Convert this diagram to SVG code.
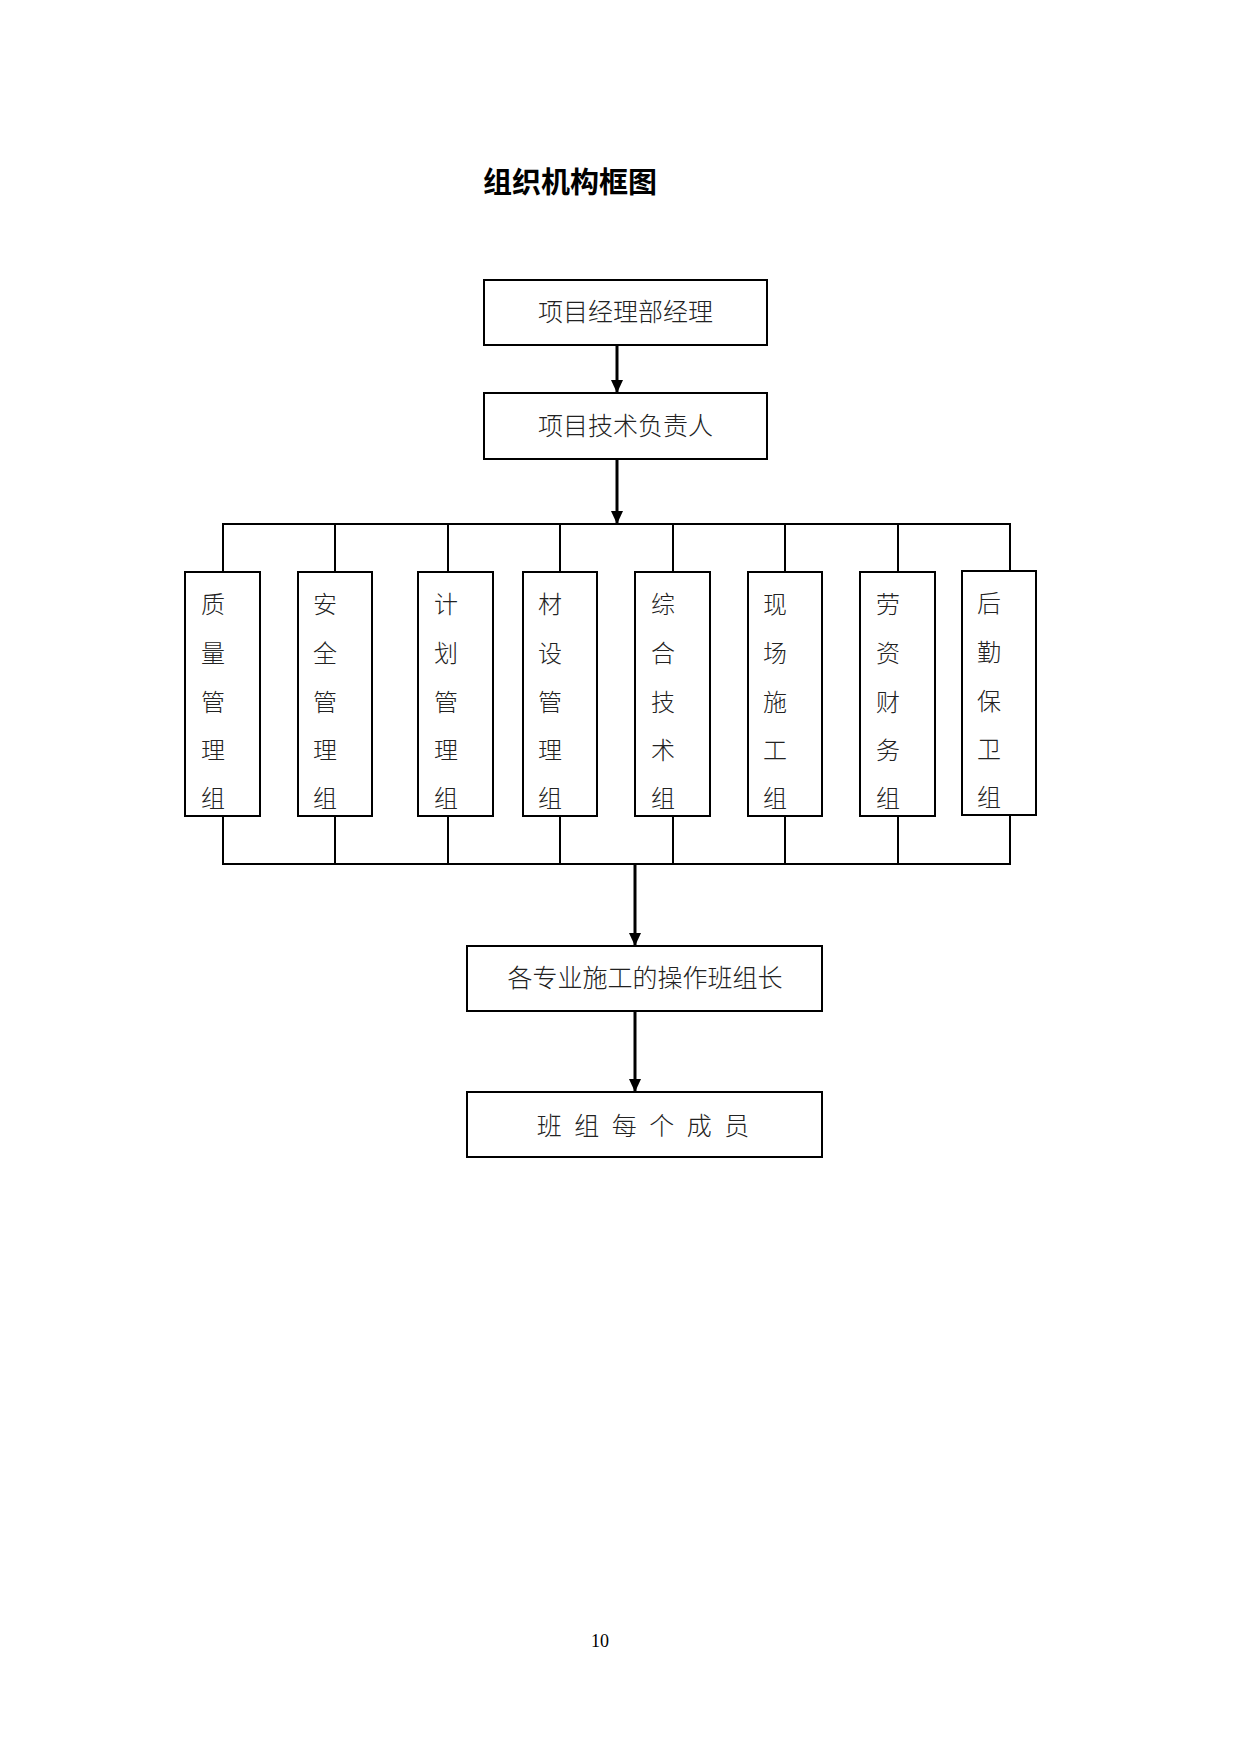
<svg xmlns="http://www.w3.org/2000/svg" width="1241" height="1754" viewBox="0 0 1241 1754">
<style>
.bg{fill:#fff}
.box{fill:#fff;stroke:#000;stroke-width:2}
.t{font-family:"Noto Sans CJK SC","Noto Sans CJK JP",sans-serif;font-size:25px;font-weight:300;fill:#222;dominant-baseline:central;text-anchor:middle}
.v{font-family:"Noto Sans CJK SC","Noto Sans CJK JP",sans-serif;font-size:24px;font-weight:300;fill:#222;dominant-baseline:central;text-anchor:middle}
.title{font-family:"Noto Sans CJK SC","Noto Sans CJK JP",sans-serif;font-size:29px;font-weight:bold;fill:#000;dominant-baseline:central}
.ln{stroke:#000;stroke-width:2;fill:none}
.ar{stroke:#000;stroke-width:3;fill:none;marker-end:url(#ah)}
.pg{font-family:"Liberation Serif",serif;font-size:18px;fill:#000;text-anchor:middle}
</style>
<defs>
<marker id="ah" markerUnits="userSpaceOnUse" viewBox="0 0 13 12" refX="13" refY="6" markerWidth="13" markerHeight="12" orient="auto">
<path d="M0,0 L13,6 L0,12 z" fill="#000"/>
</marker>
</defs>
<rect class="bg" x="0" y="0" width="1241" height="1754"/>
<text class="title" x="483" y="180">组织机构框图</text>

<g id="connectors">
<line class="ar" x1="617" y1="345" x2="617" y2="393"/>
<line class="ar" x1="617" y1="459" x2="617" y2="524"/>
<line class="ln" x1="222" y1="524" x2="1011" y2="524"/>
<line class="ln" x1="223" y1="524" x2="223" y2="572"/>
<line class="ln" x1="335" y1="524" x2="335" y2="572"/>
<line class="ln" x1="448" y1="524" x2="448" y2="572"/>
<line class="ln" x1="560" y1="524" x2="560" y2="572"/>
<line class="ln" x1="673" y1="524" x2="673" y2="572"/>
<line class="ln" x1="785" y1="524" x2="785" y2="572"/>
<line class="ln" x1="898" y1="524" x2="898" y2="572"/>
<line class="ln" x1="1010" y1="524" x2="1010" y2="571"/>
<line class="ln" x1="223" y1="816" x2="223" y2="864"/>
<line class="ln" x1="335" y1="816" x2="335" y2="864"/>
<line class="ln" x1="448" y1="816" x2="448" y2="864"/>
<line class="ln" x1="560" y1="816" x2="560" y2="864"/>
<line class="ln" x1="673" y1="816" x2="673" y2="864"/>
<line class="ln" x1="785" y1="816" x2="785" y2="864"/>
<line class="ln" x1="898" y1="816" x2="898" y2="864"/>
<line class="ln" x1="1010" y1="815" x2="1010" y2="864"/>
<line class="ln" x1="222" y1="864" x2="1011" y2="864"/>
<line class="ar" x1="635" y1="864" x2="635" y2="946"/>
<line class="ar" x1="635" y1="1011" x2="635" y2="1092"/>
</g>

<g id="manager">
<rect class="box" x="484" y="280" width="283" height="65"/>
<text class="t" x="625.5" y="310">项目经理部经理</text>
</g>
<g id="tech-lead">
<rect class="box" x="484" y="393" width="283" height="66"/>
<text class="t" x="625.5" y="424">项目技术负责人</text>
</g>

<g id="g1">
<rect class="box" x="185" y="572" width="75" height="244"/>
<text class="v" x="213"><tspan x="213" y="602">质</tspan><tspan x="213" y="651">量</tspan><tspan x="213" y="700">管</tspan><tspan x="213" y="748">理</tspan><tspan x="213" y="796">组</tspan></text>
</g>
<g id="g2">
<rect class="box" x="298" y="572" width="74" height="244"/>
<text class="v" x="325"><tspan x="325" y="602">安</tspan><tspan x="325" y="651">全</tspan><tspan x="325" y="700">管</tspan><tspan x="325" y="748">理</tspan><tspan x="325" y="796">组</tspan></text>
</g>
<g id="g3">
<rect class="box" x="418" y="572" width="75" height="244"/>
<text class="v" x="446"><tspan x="446" y="602">计</tspan><tspan x="446" y="651">划</tspan><tspan x="446" y="700">管</tspan><tspan x="446" y="748">理</tspan><tspan x="446" y="796">组</tspan></text>
</g>
<g id="g4">
<rect class="box" x="523" y="572" width="74" height="244"/>
<text class="v" x="550"><tspan x="550" y="602">材</tspan><tspan x="550" y="651">设</tspan><tspan x="550" y="700">管</tspan><tspan x="550" y="748">理</tspan><tspan x="550" y="796">组</tspan></text>
</g>
<g id="g5">
<rect class="box" x="635" y="572" width="75" height="244"/>
<text class="v" x="663"><tspan x="663" y="602">综</tspan><tspan x="663" y="651">合</tspan><tspan x="663" y="700">技</tspan><tspan x="663" y="748">术</tspan><tspan x="663" y="796">组</tspan></text>
</g>
<g id="g6">
<rect class="box" x="748" y="572" width="74" height="244"/>
<text class="v" x="775"><tspan x="775" y="602">现</tspan><tspan x="775" y="651">场</tspan><tspan x="775" y="700">施</tspan><tspan x="775" y="748">工</tspan><tspan x="775" y="796">组</tspan></text>
</g>
<g id="g7">
<rect class="box" x="860" y="572" width="75" height="244"/>
<text class="v" x="888"><tspan x="888" y="602">劳</tspan><tspan x="888" y="651">资</tspan><tspan x="888" y="700">财</tspan><tspan x="888" y="748">务</tspan><tspan x="888" y="796">组</tspan></text>
</g>
<g id="g8">
<rect class="box" x="962" y="571" width="74" height="244"/>
<text class="v" x="989"><tspan x="989" y="601">后</tspan><tspan x="989" y="650">勤</tspan><tspan x="989" y="699">保</tspan><tspan x="989" y="747">卫</tspan><tspan x="989" y="795">组</tspan></text>
</g>

<g id="team-leaders">
<rect class="box" x="467" y="946" width="355" height="65"/>
<text class="t" x="645" y="976">各专业施工的操作班组长</text>
</g>
<g id="team-members">
<rect class="box" x="467" y="1092" width="355" height="65"/>
<text class="t" x="643" y="1124" style="word-spacing:7px">班 组 每 个 成 员</text>
</g>

<text class="pg" x="600" y="1647">10</text>
</svg>
